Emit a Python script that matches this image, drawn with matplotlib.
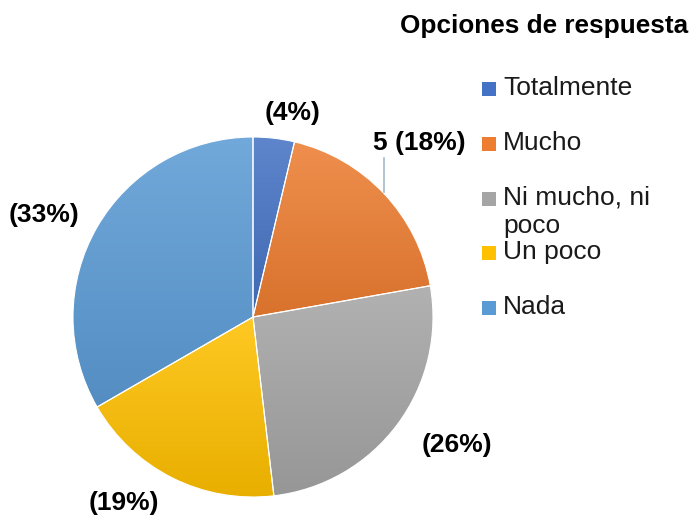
import numpy as np
import matplotlib
matplotlib.use("Agg")
import matplotlib.pyplot as plt
from matplotlib.colors import to_rgb
from matplotlib.patches import Rectangle

categories = ["Totalmente", "Mucho", "Ni mucho, ni\npoco", "Un poco", "Nada"]
counts = [1, 5, 7, 5, 9]
data_labels = ["(4%)", "5 (18%)", "(26%)", "(19%)", "(33%)"]
colors = ["#4472C4", "#ED7D31", "#A5A5A5", "#FFC000", "#5B9BD5"]
title = "Opciones de respuesta"

W, H = 696, 519
plt.rcParams['font.family'] = ['Liberation Sans', 'DejaVu Sans']
fig = plt.figure(figsize=(W / 100, H / 100), dpi=100)
ax = fig.add_axes([0, 0, 1, 1])


def Y(y):
    return H - y


cx, cy, r = 253, Y(317), 180
wedges, _ = ax.pie(counts, startangle=90, counterclock=False, center=(cx, cy),
                   radius=r, colors=colors, frame=True,
                   wedgeprops=dict(edgecolor='white', linewidth=0.8))
ax.set_xlim(0, W)
ax.set_ylim(0, H)
ax.axis('off')


def mix(c, t, amt):
    c = np.array(to_rgb(c))
    t = np.array(t, dtype=float)
    return c + (t - c) * amt


N = 256
for w, col in zip(wedges, colors):
    ext = w.get_path().get_extents()
    top = mix(col, (1, 1, 1), 0.14)
    bot = mix(col, (0, 0, 0), 0.09)
    s = np.linspace(0, 1, N)[:, None]
    grad = top[None, :] * (1 - s) + bot[None, :] * s
    img = np.concatenate([grad, np.ones((N, 1))], axis=1)[:, None, :]
    im = ax.imshow(img, extent=[ext.x0 - 1, ext.x1 + 1, ext.y0 - 1, ext.y1 + 1],
                   origin='upper', aspect='auto', zorder=1,
                   interpolation='bilinear')
    im.set_clip_path(w)
    w.set_facecolor('none')
    w.set_zorder(2)

ax.set_xlim(0, W)
ax.set_ylim(0, H)

# data labels
label_pos = [(293, 113), (419, 143), (457, 445), (124, 503), (44, 215)]
for (x, y), t in zip(label_pos, data_labels):
    ax.text(x, Y(y), t, ha='center', va='center', fontsize=19,
            fontweight='bold', color='black', zorder=5)

# leader line for Mucho label
ax.plot([384, 384], [Y(158), Y(192)], color='#A6B8CC', lw=1.2, zorder=4)

# title
ax.text(400, Y(26), title, ha='left', va='center', fontsize=18.8,
        fontweight='bold', color='black')

# legend
for i, (lab, col) in enumerate(zip(categories, colors)):
    yc = 88 + i * 54.8
    ax.add_patch(Rectangle((482, Y(yc + 8)), 14, 14, facecolor=col,
                           edgecolor='none', zorder=5))
    for j, line in enumerate(lab.split("\n")):
        ax.text(503, Y(yc + j * 28), line, ha='left', va='center',
                fontsize=19, color='#1a1a1a', zorder=5)

fig.savefig("out.png", dpi=100)
